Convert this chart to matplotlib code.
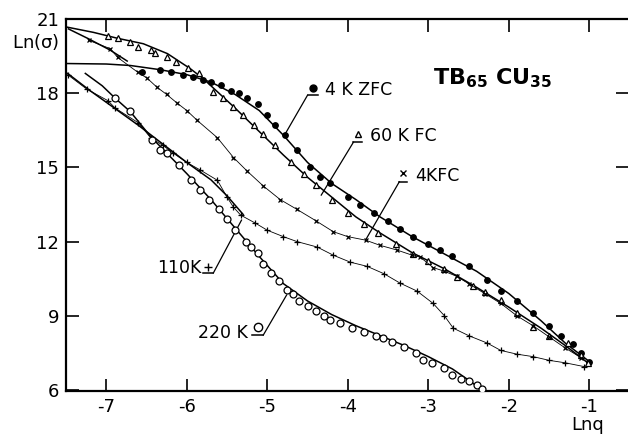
"""
plot.py

Ln(sigma) against Ln q for Tb65 Cu35 at five temperatures / field histories.
Values are read off the scanned figure.
"""

import matplotlib
matplotlib.use("Agg")
import matplotlib.pyplot as plt

# 4 K ZFC (filled dots)
zfc4_x = [-6.55, -6.33, -6.2, -6.05, -5.92, -5.8, -5.7, -5.58, -5.45, -5.35,
          -5.25, -5.12, -5.0, -4.9, -4.78, -4.63, -4.47, -4.34, -4.22, -4.0,
          -3.85, -3.68, -3.5, -3.35, -3.19, -3.0, -2.85, -2.7, -2.5, -2.27,
          -2.1, -1.9, -1.7, -1.5, -1.35, -1.2, -1.1, -1.0]
zfc4_y = [18.85, 18.93, 18.85, 18.75, 18.65, 18.55, 18.45, 18.32, 18.1, 18.0,
          17.8, 17.55, 17.1, 16.7, 16.3, 15.7, 15.0, 14.6, 14.36, 13.8,
          13.5, 13.15, 12.85, 12.5, 12.2, 11.9, 11.65, 11.4, 11.0, 10.44,
          10.0, 9.6, 9.1, 8.6, 8.2, 7.85, 7.5, 7.15]
zfc4_fit_x = [-7.5, -7.0, -6.7, -6.33, -6.0, -5.7, -5.4, -5.1, -4.8, -4.5,
              -4.2, -3.9, -3.6, -3.2, -2.8, -2.4, -2.0, -1.6, -1.3, -1.0]
zfc4_fit_y = [19.2, 19.18, 19.12, 18.95, 18.75, 18.45, 17.95, 17.3, 16.3, 15.2,
              14.35, 13.7, 13.0, 12.2, 11.5, 10.8, 9.9, 8.8, 7.9, 7.15]

# 60 K FC (open triangles)
fc60_x = [-6.98, -6.86, -6.7, -6.61, -6.45, -6.39, -6.24, -6.14, -5.98, -5.85,
          -5.67, -5.55, -5.42, -5.3, -5.17, -5.05, -4.9, -4.71, -4.55, -4.4,
          -4.2, -4.0, -3.8, -3.63, -3.4, -3.19, -3.0, -2.8, -2.64, -2.45,
          -2.3, -2.1, -1.9, -1.7, -1.5, -1.27, -1.1, -1.02]
fc60_y = [20.3, 20.22, 20.06, 19.86, 19.74, 19.62, 19.45, 19.25, 19.0, 18.8,
          18.04, 17.8, 17.43, 17.1, 16.7, 16.35, 15.9, 15.2, 14.75, 14.3,
          13.7, 13.15, 12.7, 12.34, 11.9, 11.5, 11.2, 10.9, 10.57, 10.2,
          9.95, 9.64, 9.1, 8.55, 8.2, 7.9, 7.4, 7.1]
fc60_fit_x = [-7.5, -7.16, -6.86, -6.54, -6.24, -5.96, -5.8, -5.6, -5.4, -5.1,
              -4.8, -4.5, -4.2, -3.9, -3.6, -3.2, -2.8, -2.4, -2.0, -1.6,
              -1.3, -1.0]
fc60_fit_y = [20.68, 20.46, 20.22, 20.0, 19.6, 19.0, 18.6, 18.0, 17.4, 16.45,
              15.5, 14.6, 13.8, 13.0, 12.35, 11.55, 10.9, 10.15, 9.35, 8.5,
              7.8, 7.05]

# 4 K FC (crosses)
fc4_x = [-7.22, -6.95, -6.86, -6.61, -6.49, -6.37, -6.25, -6.12, -6.0, -5.87,
         -5.62, -5.42, -5.25, -5.05, -4.84, -4.63, -4.4, -4.18, -4.0, -3.78,
         -3.6, -3.39, -3.2, -3.1, -2.94, -2.8, -2.65, -2.5, -2.3, -2.1,
         -1.9, -1.7, -1.5, -1.3, -1.1]
fc4_y = [20.14, 19.8, 19.45, 18.85, 18.6, 18.24, 17.95, 17.6, 17.3, 16.9,
         16.2, 15.4, 14.85, 14.25, 13.7, 13.3, 12.85, 12.4, 12.2, 12.06,
         11.85, 11.66, 11.45, 11.37, 10.95, 10.8, 10.6, 10.3, 9.9, 9.5,
         9.0, 8.6, 8.15, 7.7, 7.3]
fc4_fit_x = [-7.47, -7.22, -6.95, -6.74]
fc4_fit_y = [20.6, 20.2, 19.74, 19.3]

# 110 K (plus signs)
k110_x = [-7.48, -7.24, -6.98, -6.89, -6.6, -6.45, -6.3, -6.17, -6.0, -5.83,
          -5.62, -5.5, -5.42, -5.33, -5.15, -5.0, -4.8, -4.63, -4.38, -4.18,
          -3.97, -3.76, -3.55, -3.35, -3.14, -2.94, -2.8, -2.69, -2.5, -2.27,
          -2.1, -1.9, -1.7, -1.5, -1.3, -1.07]
k110_y = [18.75, 18.16, 17.7, 17.4, 16.8, 16.2, 15.9, 15.58, 15.2, 14.89,
          14.48, 13.8, 13.39, 13.07, 12.75, 12.46, 12.2, 12.0, 11.78, 11.45,
          11.17, 11.0, 10.7, 10.32, 10.0, 9.5, 9.0, 8.5, 8.2, 7.9,
          7.6, 7.45, 7.35, 7.2, 7.1, 6.95]
k110_fit_x = [-7.48, -7.2, -6.9, -6.6, -6.3, -6.0, -5.7, -5.5, -5.3]
k110_fit_y = [18.8, 18.1, 17.4, 16.7, 15.95, 15.2, 14.5, 13.85, 13.1]

# 220 K (open circles)
k220_x = [-6.89, -6.7, -6.43, -6.33, -6.24, -6.1, -5.95, -5.83, -5.72, -5.6,
          -5.5, -5.4, -5.27, -5.2, -5.11, -5.05, -4.95, -4.85, -4.75, -4.68,
          -4.6, -4.5, -4.4, -4.3, -4.22, -4.1, -3.95, -3.8, -3.65, -3.56,
          -3.45, -3.3, -3.15, -3.06, -2.95, -2.8, -2.7, -2.6, -2.5, -2.39,
          -2.33]
k220_y = [17.8, 17.27, 16.1, 15.7, 15.6, 15.1, 14.5, 14.08, 13.7, 13.3,
          12.9, 12.45, 12.0, 11.8, 11.54, 11.1, 10.75, 10.4, 10.04, 9.9,
          9.6, 9.4, 9.2, 9.0, 8.83, 8.7, 8.5, 8.35, 8.2, 8.1,
          7.95, 7.75, 7.5, 7.2, 7.1, 6.9, 6.6, 6.45, 6.35, 6.2,
          6.05]
k220_fit_x = [-7.26, -7.05, -6.89, -6.7, -6.45, -6.24, -6.0, -5.7, -5.4, -5.1,
              -4.8, -4.5, -4.2, -3.9, -3.6, -3.3, -3.0, -2.7, -2.5, -2.33]
k220_fit_y = [18.8, 18.3, 17.8, 17.25, 16.25, 15.55, 14.75, 13.7, 12.55, 11.4,
              10.3, 9.6, 9.05, 8.6, 8.2, 7.8, 7.35, 6.85, 6.4, 6.0]

x_ticks = [-7, -6, -5, -4, -3, -2, -1]
y_ticks = [6, 9, 12, 15, 18, 21]

plt.rcParams['font.family'] = ['DejaVu Sans']
plt.rcParams['axes.unicode_minus'] = False
plt.rcParams['mathtext.default'] = 'regular'


def series(ax, x, y, fit_x, fit_y, marker, ms, fill, join=False):
    """Draws one data set: fitted line plus its markers."""
    if fit_x:
        ax.plot(fit_x, fit_y, color='k', lw=1.1, zorder=2)
    face = 'k' if fill else 'white'
    ax.plot(x, y, ls='-' if join else 'none', lw=0.6, color='k',
            marker=marker, ms=ms, mfc=face, mec='k', mew=0.9, zorder=3)


def tag(ax, mark, ms, fill, sym_xy, under, tip, text, text_xy, ha):
    """Marker symbol with an underline and a pointer line down to the curve."""
    face = 'k' if fill else 'white'
    ax.plot([sym_xy[0]], [sym_xy[1]], marker=mark, ms=ms, mfc=face,
            mec='k', mew=1.0, color='k', zorder=4)
    ax.plot([under[0], under[1]], [under[2], under[2]], color='k', lw=1.1)
    ax.plot([under[3], tip[0]], [under[2], tip[1]], color='k', lw=0.9)
    ax.text(text_xy[0], text_xy[1], text, ha=ha, va='center', fontsize=12.5)


fig = plt.figure(figsize=(6.28, 4.34), dpi=100)
ax = fig.add_axes([66 / 628, 43 / 434, 562 / 628, 372 / 434])

series(ax, zfc4_x, zfc4_y, zfc4_fit_x, zfc4_fit_y, 'o', 4.0, True)
series(ax, fc60_x, fc60_y, fc60_fit_x, fc60_fit_y, '^', 4.5, False)
series(ax, fc4_x, fc4_y, fc4_fit_x, fc4_fit_y, 'x', 3.5, True, join=True)
series(ax, k110_x, k110_y, k110_fit_x, k110_fit_y, '+', 4.0, True, join=True)
series(ax, k220_x, k220_y, k220_fit_x, k220_fit_y, 'o', 5.0, False)

tag(ax, 'o', 5, True, (-4.43, 18.2), (-4.50, -4.37, 17.92, -4.50),
    (-4.78, 16.34), '4 K ZFC', (-4.28, 18.12), 'left')
tag(ax, '^', 5, False, (-3.87, 16.36), (-3.93, -3.82, 16.02, -3.93),
    (-4.33, 13.88), '60 K FC', (-3.72, 16.28), 'left')
tag(ax, 'x', 4, True, (-3.31, 14.76), (-3.36, -3.26, 14.42, -3.36),
    (-3.78, 12.06), '4KFC', (-3.16, 14.65), 'left')
tag(ax, '+', 6, True, (-5.74, 10.98), (-5.80, -5.67, 10.73, -5.67),
    (-5.32, 12.87), '110K', (-5.82, 10.93), 'right')
tag(ax, 'o', 6, False, (-5.12, 8.56), (-5.19, -5.05, 8.22, -5.05),
    (-4.76, 9.84), '220 K', (-5.24, 8.3), 'right')

ax.text(-2.2, 18.6, r'TB$_{65}$ CU$_{35}$', ha='center', va='center',
        fontsize=16, fontweight='bold')

ax.set_xlim(-7.5, -0.52)
ax.set_ylim(5.96, 21.0)
ax.set_xticks(x_ticks)
ax.set_yticks(y_ticks)
ax.tick_params(direction='in', length=9, width=1.2, labelsize=13,
               top=True, right=True, pad=5)
for side in ['left', 'bottom', 'top']:
    ax.spines[side].set_linewidth(1.6)
ax.spines['right'].set_visible(False)

fig.text(36 / 628, 1 - 42 / 434, r'Ln($\sigma$)', ha='center', va='center',
         fontsize=13)
fig.text(588 / 628, 1 - 425 / 434, 'Lnq', ha='center', va='center',
         fontsize=13)

fig.savefig('out.png', dpi=100)
